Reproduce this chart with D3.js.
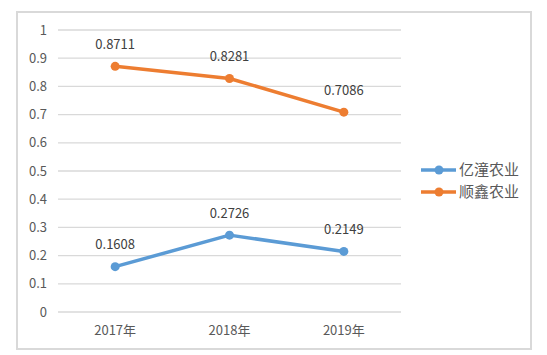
<!DOCTYPE html>
<html><head><meta charset="utf-8">
<script src="https://cdn.jsdelivr.net/npm/d3@7"></script>
<style>body{margin:0;background:#fff}</style>
</head><body>
<svg id="c" width="547" height="355"></svg>
<script>
const categories = ["2017年","2018年","2019年"];
const seriesNames = ["亿潼农业","顺鑫农业"];
const yitong = [0.1608,0.2726,0.2149];
const shunxin = [0.8711,0.8281,0.7086];
const yTicks = [0,0.1,0.2,0.3,0.4,0.5,0.6,0.7,0.8,0.9,1];
const colors = ["#5b9bd5","#ed7d31"];
const series = [yitong, shunxin];

const font = "'Noto Sans CJK SC', 'Microsoft YaHei', sans-serif";
const svg = d3.select("#c");
svg.append("rect").attr("x",17).attr("y",12).attr("width",514).attr("height",337)
  .attr("fill","#fff").attr("stroke","#d9d9d9").attr("stroke-width",2);

const x = d3.scalePoint().domain(categories).range([58,401]).padding(0.5);
const y = d3.scaleLinear().domain([0,1]).range([312,30]);

const g = svg.append("g");
g.selectAll("line.grid").data(yTicks).join("line")
  .attr("x1",58).attr("x2",401).attr("y1",d=>y(d)).attr("y2",d=>y(d))
  .attr("stroke","#d9d9d9").attr("stroke-width",1.3);

g.selectAll("text.yt").data(yTicks).join("text")
  .attr("x",47).attr("y",d=>y(d)).attr("dy","0.35em").attr("text-anchor","end")
  .attr("font-family",font).attr("font-size",13).attr("fill","#595959")
  .text(d=>d3.format("~g")(d));

g.selectAll("text.xt").data(categories).join("text")
  .attr("x",d=>x(d)).attr("y",330).attr("dy","0.35em").attr("text-anchor","middle")
  .attr("font-family",font).attr("font-size",13).attr("fill","#595959")
  .text(d=>d);

const line = d3.line().x((d,i)=>x(categories[i])).y(d=>y(d));
series.forEach((s,k)=>{
  g.append("path").attr("d",line(s)).attr("fill","none").attr("stroke",colors[k])
    .attr("stroke-width",3.5).attr("stroke-linejoin","round");
  g.selectAll(null).data(s).join("circle")
    .attr("cx",(d,i)=>x(categories[i])).attr("cy",d=>y(d)).attr("r",4.5).attr("fill",colors[k]);
  g.selectAll(null).data(s).join("text")
    .attr("x",(d,i)=>x(categories[i])).attr("y",d=>y(d)-22).attr("dy","0.35em")
    .attr("text-anchor","middle").attr("font-family",font).attr("font-size",13).attr("fill","#404040")
    .text(d=>d.toFixed(4));
});

const leg = svg.append("g");
seriesNames.forEach((n,k)=>{
  const ly = 170 + k*22;
  leg.append("line").attr("x1",421).attr("x2",456).attr("y1",ly).attr("y2",ly)
    .attr("stroke",colors[k]).attr("stroke-width",3.5);
  leg.append("circle").attr("cx",439).attr("cy",ly).attr("r",4.5).attr("fill",colors[k]);
  leg.append("text").attr("x",459).attr("y",ly).attr("dy","0.35em")
    .attr("font-family",font).attr("font-size",15).attr("fill","#595959").text(n);
});
</script>
</body></html>
